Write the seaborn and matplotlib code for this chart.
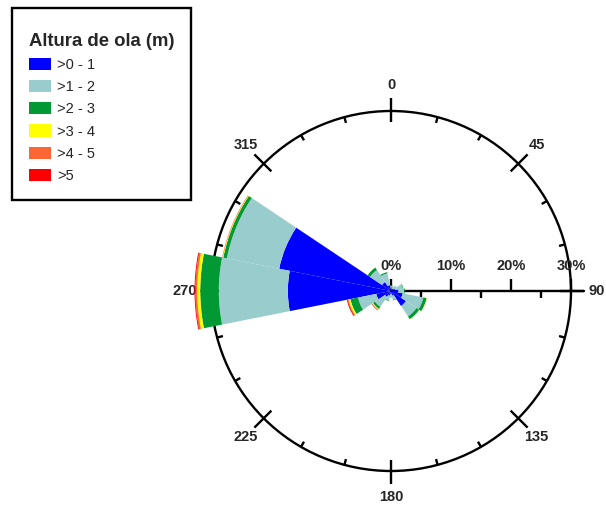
import numpy as np
import pandas as pd
import matplotlib
matplotlib.use("Agg")
import matplotlib.pyplot as plt
from matplotlib.patches import Circle
from matplotlib.offsetbox import VPacker, DrawingArea
import seaborn as sns

# wave directions (deg, clockwise from north) and frequency (%) per height class
directions = [0, 22.5, 45, 67.5, 90, 112.5, 135, 157.5,
              180, 202.5, 225, 247.5, 270, 292.5, 315, 337.5]
h_0_1 = [0.4, 0.3, 0.5, 0.7, 1.2, 2.0, 3.0, 0.8, 0.5, 0.8, 1.2, 2.5, 17.2, 19.0, 1.8, 1.0]
h_1_2 = [0.5, 0.4, 0.5, 1.3, 1.0, 3.5, 2.1, 0.7, 0.5, 0.8, 2.0, 3.1, 11.5, 8.9, 2.4, 2.0]
h_2_3 = [0.1, 0.05, 0.05, 0.1, 0.1, 0.55, 0.55, 0.1, 0.05, 0.1, 0.4, 1.3, 3.1, 0.6, 0.5, 0.2]
h_3_4 = [0, 0, 0, 0, 0, 0.05, 0.05, 0, 0, 0, 0.15, 0.3, 0.5, 0.1, 0.05, 0]
h_4_5 = [0, 0, 0, 0, 0, 0, 0, 0, 0, 0, 0.1, 0.15, 0.3, 0.05, 0, 0]
h_5 = [0, 0, 0, 0, 0, 0, 0, 0, 0, 0, 0.05, 0.15, 0.15, 0.03, 0, 0]

classes = [">0 - 1", ">1 - 2", ">2 - 3", ">3 - 4", ">4 - 5", ">5"]
class_colors = ["#0000FF", "#99CCCC", "#009933", "#FFFF00", "#FF6633", "#FF0000"]

compass_angles = [0, 45, 90, 135, 180, 225, 270, 315]
pct_ticks = [0, 10, 20, 30]

df = pd.DataFrame({"dir": directions, ">0 - 1": h_0_1, ">1 - 2": h_1_2,
                   ">2 - 3": h_2_3, ">3 - 4": h_3_4, ">4 - 5": h_4_5, ">5": h_5})

sns.set_style("white")
plt.rcParams["font.family"] = ["Liberation Sans", "DejaVu Sans"]
palette = sns.color_palette(class_colors)

R = 34.5  # radial limit of the axes (percent)
fig = plt.figure(figsize=(6.06, 5.08), dpi=100)
cx, cy, rad_px = 391, 508 - 291, 207
rect = [(cx - rad_px) / 606, (cy - rad_px) / 508, 2 * rad_px / 606, 2 * rad_px / 508]

# decoration axes (circle, compass ticks, radial scale) below the bars
axd = fig.add_axes(rect)
axd.set_xlim(-R, R)
axd.set_ylim(-R, R)
axd.set_aspect("equal")
axd.axis("off")
axd.set_zorder(0)

axd.add_patch(Circle((0, 0), 30, fill=False, lw=1.7, color="black"))
for a in range(0, 360, 15):
    t = np.deg2rad(a)
    r0, r1 = (28.2, 32.2) if a % 45 == 0 else (29.0, 30.0)
    axd.plot([r0 * np.sin(t), r1 * np.sin(t)], [r0 * np.cos(t), r1 * np.cos(t)],
             color="black", lw=1.7, solid_capstyle="butt")
for a in compass_angles:
    t = np.deg2rad(a)
    axd.text(34.3 * np.sin(t), 34.3 * np.cos(t), str(a), ha="center", va="center",
             fontsize=10.5, fontweight="bold", clip_on=False)

axd.plot([0, 32.1], [0, 0], color="black", lw=1.7)
for p in pct_ticks:
    axd.plot([p, p], [0, 2.0], color="black", lw=1.7, solid_capstyle="butt")
    axd.text(p, 4.2, f"{p}%", ha="center", va="center", fontsize=10.5, fontweight="bold")
for p in [5, 15, 25]:
    axd.plot([p, p], [0, -1.2], color="black", lw=1.7, solid_capstyle="butt")

# polar axes with the stacked sectors
ax = fig.add_axes(rect, projection="polar")
ax.set_zorder(1)
ax.patch.set_alpha(0)
ax.set_theta_zero_location("N")
ax.set_theta_direction(-1)
ax.set_ylim(0, R)
ax.axis("off")

theta = np.deg2rad(df["dir"].values)
width = np.deg2rad(22.5)
bottom = np.zeros(len(df))
for cls, col in zip(classes, palette):
    vals = df[cls].values
    ax.bar(theta, vals, width=width, bottom=bottom, color=col, linewidth=0,
           label=cls, align="center")
    bottom = bottom + vals

handles, labels = ax.get_legend_handles_labels()
leg = fig.legend(handles, labels, loc="upper left",
                 bbox_to_anchor=(12 / 606, 1 - 8 / 508),
                 title="Altura de ola (m)",
                 title_fontproperties={"weight": "bold", "size": 13.3},
                 fontsize=10.5, frameon=True, fancybox=False, framealpha=1,
                 edgecolor="black", borderpad=1.15, labelspacing=0.55,
                 handlelength=1.55, handleheight=0.9, handletextpad=0.4,
                 alignment="left", borderaxespad=0)
leg.get_frame().set_linewidth(1.7)
# a little extra room above the title, as in the original
title_box = leg._legend_box._children[0]
leg._legend_box._children[0] = VPacker(children=[DrawingArea(1, 6), title_box],
                                       align="left", pad=0, sep=0)

fig.savefig("out.png", dpi=100)
